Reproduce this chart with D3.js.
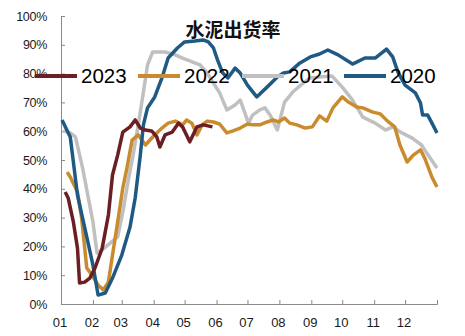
<!DOCTYPE html>
<html><head><meta charset="utf-8">
<script src="https://cdn.jsdelivr.net/npm/d3@7"></script>
<style>html,body{margin:0;padding:0;background:#fff;}svg{display:block;}</style>
</head><body>
<div id="chart"></div>
<script>
const title = "水泥出货率";
const monthLabels = ["01","02","03","04","05","06","07","08","09","10","11","12"];
const monthStartDays = [0,31,59,90,120,151,181,212,243,273,304,334];
const yTicks = [0,10,20,30,40,50,60,70,80,90,100];

const days2020 = [1,9,16,25,31,36,43,50,59,67,72,77,80,84,91,98,104,113,120,130,138,143,148,152,157,162,169,174,181,190,200,210,216,222,232,242,251,259,269,283,295,305,316,322,327,334,344,349,351,356,361,365];
const vals2020 = [63.9,58.0,37.8,23.3,13.5,3.1,3.8,9.0,17.0,26.7,36.8,51.7,62.2,68.1,71.9,78.5,85.4,88.9,91.0,91.3,91.7,91.0,88.9,84.7,80.2,78.5,81.9,80.2,76.0,71.9,75.3,78.8,80.2,80.6,83.7,85.8,86.8,88.2,86.5,83.3,85.4,85.4,88.5,85.8,80.6,76.0,73.3,69.8,65.6,65.6,62.2,59.4];

const days2021 = [2,9,14,21,26,31,35,40,48,55,60,65,70,75,80,84,89,101,111,118,128,135,142,148,154,161,169,174,182,186,193,198,203,210,217,225,235,242,250,263,273,283,293,305,315,322,331,341,350,355,365];
const vals2021 = [60.1,59.4,58.0,47.2,37.8,28.5,17.7,18.8,21.2,23.3,31.9,42.4,51.7,62.2,73.6,83.0,87.5,87.5,86.5,85.4,84.0,83.0,80.2,76.7,73.3,67.4,69.1,70.8,62.8,65.6,67.4,68.1,65.6,60.4,70.1,73.6,76.7,78.5,78.8,79.2,75.3,70.8,64.9,62.8,60.4,61.5,59.4,57.6,55.2,52.4,47.2];

const days2022 = [6,9,16,20,25,30,36,41,46,50,55,60,64,69,75,82,89,98,104,111,118,122,127,132,137,142,148,154,161,167,174,181,186,193,200,206,211,217,222,229,237,244,251,258,264,273,279,287,293,302,310,317,324,329,336,342,349,353,360,365];
const vals2022 = [45.8,44.1,38.9,29.9,12.5,10.1,6.6,4.9,7.6,17.0,28.5,40.3,47.2,56.9,58.7,55.2,58.0,61.1,62.8,63.5,62.2,63.9,62.8,58.7,62.2,63.5,63.2,62.5,59.4,60.1,61.1,62.5,62.2,62.2,63.2,63.9,63.2,64.6,62.8,62.2,61.1,61.5,65.3,63.5,68.1,71.9,70.1,68.4,68.1,66.7,66.0,63.5,61.5,55.2,49.3,51.7,53.5,50.7,44.1,40.6];

const days2023 = [4,7,12,16,18,23,28,33,40,46,50,55,60,67,72,77,82,88,93,96,101,108,114,118,125,132,138,147];
const vals2023 = [38.9,36.8,28.5,19.4,7.3,7.6,9.0,12.5,19.4,30.9,44.8,51.7,59.7,61.5,63.9,61.1,60.4,60.1,58.0,54.5,58.7,59.7,62.8,61.5,56.3,61.5,62.2,61.5];

const seriesNames = ["2023","2022","2021","2020"];
const seriesColors = {"2023":"#6B1F22","2022":"#C98B2E","2021":"#C0C0C0","2020":"#1F5A85"};
const seriesData = {
  "2020": days2020.map((d,i)=>({d, v: vals2020[i]})),
  "2021": days2021.map((d,i)=>({d, v: vals2021[i]})),
  "2022": days2022.map((d,i)=>({d, v: vals2022[i]})),
  "2023": days2023.map((d,i)=>({d, v: vals2023[i]}))
};
const drawOrder = ["2021","2022","2020","2023"];

const W = 465, H = 336;
const svg = d3.select("#chart").append("svg").attr("width", W).attr("height", H);
const x = d3.scaleLinear().domain([0,365]).range([61,437]);
const y = d3.scaleLinear().domain([0,100]).range([304,16]);
const font = "'Liberation Sans', Arial, sans-serif";

// Y axis
const yAxis = d3.axisRight(y).tickValues(yTicks).tickSize(4).tickFormat("");
const gy = svg.append("g").attr("transform", `translate(${x(0)},0)`).call(yAxis);
gy.select(".domain").attr("stroke", "#898989");
gy.selectAll(".tick line").attr("stroke", "#898989");
svg.append("g").selectAll("text").data(yTicks).join("text")
  .attr("x", 47).attr("y", d => y(d)).attr("dy", "0.36em")
  .attr("text-anchor", "end").attr("font-family", font).attr("font-size", 12.5)
  .attr("letter-spacing", "-0.3").attr("fill", "#1a1a1a")
  .text(d => d + "%");

// X axis
const xAxis = d3.axisTop(x).tickValues(monthStartDays).tickSize(4).tickFormat("");
const gx = svg.append("g").attr("transform", `translate(0,${y(0)})`).call(xAxis);
gx.select(".domain").attr("stroke", "#898989");
gx.selectAll(".tick line").attr("stroke", "#898989");
svg.append("g").selectAll("text").data(monthStartDays).join("text")
  .attr("x", (d) => x(d) - 1).attr("y", 327)
  .attr("text-anchor", "middle").attr("font-family", font).attr("font-size", 13)
  .attr("fill", "#1a1a1a")
  .text((d,i) => monthLabels[i]);

// Lines
const line = d3.line().x(p => x(p.d)).y(p => y(p.v));
svg.append("g").selectAll("path").data(drawOrder).join("path")
  .attr("d", k => line(seriesData[k]))
  .attr("fill", "none").attr("stroke", k => seriesColors[k])
  .attr("stroke-width", 3.5).attr("stroke-linejoin", "round");

// Title
svg.append("text").attr("x", 233).attr("y", 37).attr("text-anchor", "middle")
  .attr("font-family", "'Noto Sans CJK SC', sans-serif").attr("font-weight", "bold")
  .attr("font-size", 19).attr("fill", "#111").text(title);

// Legend
const legendX = [35, 138, 242, 344];
const lg = svg.append("g").selectAll("g").data(seriesNames).join("g")
  .attr("transform", (k,i) => `translate(${legendX[i]},76)`);
lg.append("line").attr("x1", 0).attr("x2", 42).attr("y1", 0).attr("y2", 0)
  .attr("stroke", k => seriesColors[k]).attr("stroke-width", 4);
lg.append("text").attr("x", 46).attr("y", 0).attr("dy", "0.36em")
  .attr("font-family", font).attr("font-size", 20.5).attr("fill", "#000")
  .text(k => k);
</script>
</body></html>
